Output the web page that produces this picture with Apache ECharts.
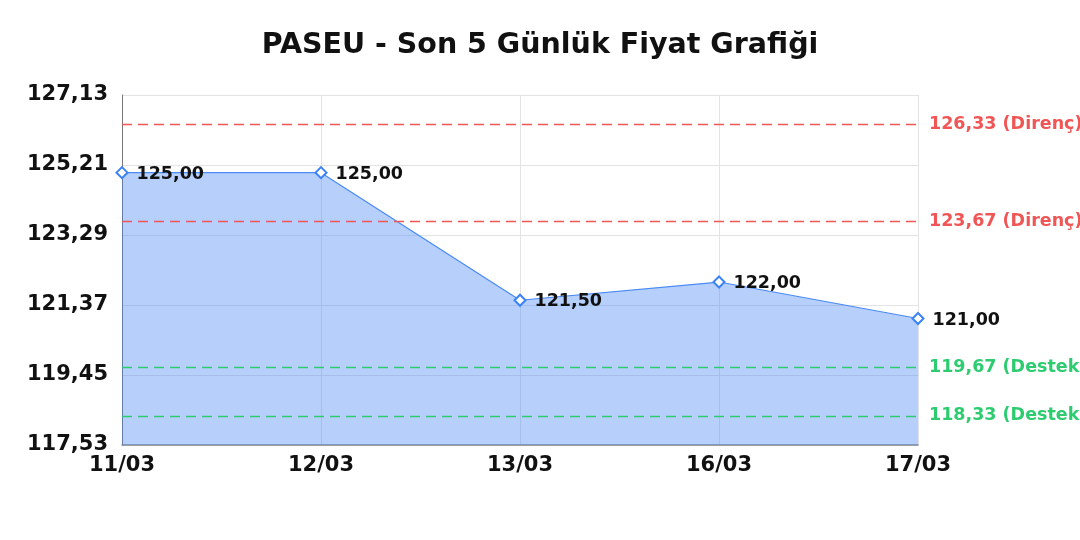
<!DOCTYPE html>
<html>
<head>
<meta charset="utf-8">
<script src="https://cdn.jsdelivr.net/npm/echarts@6/dist/echarts.min.js"></script>
<style>html,body{margin:0;padding:0;background:#fff;}#c{width:1080px;height:540px;}</style>
</head>
<body>
<div id="c"></div>
<script>
const categories = ['11/03', '12/03', '13/03', '16/03', '17/03'];
const prices = [125.00, 125.00, 121.50, 122.00, 121.00];
const yTicks = [117.53, 119.45, 121.37, 123.29, 125.21, 127.13];
const resistance = [126.33, 123.67];
const support = [119.67, 118.33];

const fmt = v => Number(v).toFixed(2).replace('.', ',');
const FONT = '"DejaVu Sans", sans-serif';
const RED = '#f05656';
const GREEN = '#2ecc71';
const DASH = [10, 6];

const markData = [];
resistance.forEach(v => markData.push({ yAxis: v, name: 'Direnç',
  lineStyle: { color: RED, type: DASH, width: 1.3 }, label: { color: RED } }));
support.forEach(v => markData.push({ yAxis: v, name: 'Destek',
  lineStyle: { color: GREEN, type: DASH, width: 1.3 }, label: { color: GREEN } }));

const chart = echarts.init(document.getElementById('c'), null, { renderer: 'canvas' });
chart.setOption({
  animation: false,
  title: {
    text: 'PASEU - Son 5 Günlük Fiyat Grafiği',
    left: 'center', top: 26,
    textStyle: { fontFamily: FONT, fontWeight: 'bold', fontSize: 28.5, color: '#111' }
  },
  grid: { left: 122, right: 162, top: 95, bottom: 95, containLabel: false },
  xAxis: {
    type: 'category',
    data: categories,
    boundaryGap: false,
    axisLine: { show: true, lineStyle: { color: '#888', width: 1.5 } },
    axisTick: { show: false },
    axisLabel: { fontFamily: FONT, fontWeight: 'bold', fontSize: 21, color: '#111', margin: 10 },
    splitLine: { show: true, lineStyle: { color: '#e3e3e3', width: 1 } }
  },
  yAxis: {
    type: 'value',
    min: yTicks[0],
    max: yTicks[yTicks.length - 1],
    axisLine: { show: true, lineStyle: { color: '#777', width: 1 } },
    axisTick: { show: false, customValues: yTicks },
    axisLabel: {
      customValues: yTicks,
      fontFamily: FONT, fontWeight: 'bold', fontSize: 21, color: '#111', margin: 14,
      formatter: v => fmt(v)
    },
    splitLine: { show: true, lineStyle: { color: '#e3e3e3', width: 1 } }
  },
  series: [{
    type: 'line',
    data: prices,
    symbol: 'diamond',
    symbolSize: 11,
    itemStyle: { color: '#fff', borderColor: '#3b82f6', borderWidth: 2 },
    lineStyle: { color: '#4a8af4', width: 1.2 },
    areaStyle: { color: 'rgba(66,133,244,0.39)', opacity: 1 },
    label: {
      show: true, position: 'right', distance: 8, offset: [0, 1.5],
      fontFamily: FONT, fontWeight: 'bold', fontSize: 17.5, color: '#111',
      formatter: p => fmt(p.value)
    },
    markLine: {
      silent: true,
      symbol: ['none', 'none'],
      lineStyle: { type: DASH, width: 1.3 },
      label: {
        position: 'end', distance: 11,
        fontFamily: FONT, fontWeight: 'bold', fontSize: 17.5,
        formatter: p => fmt(p.value) + ' (' + p.name + ')'
      },
      data: markData
    }
  }]
});
</script>
</body>
</html>
